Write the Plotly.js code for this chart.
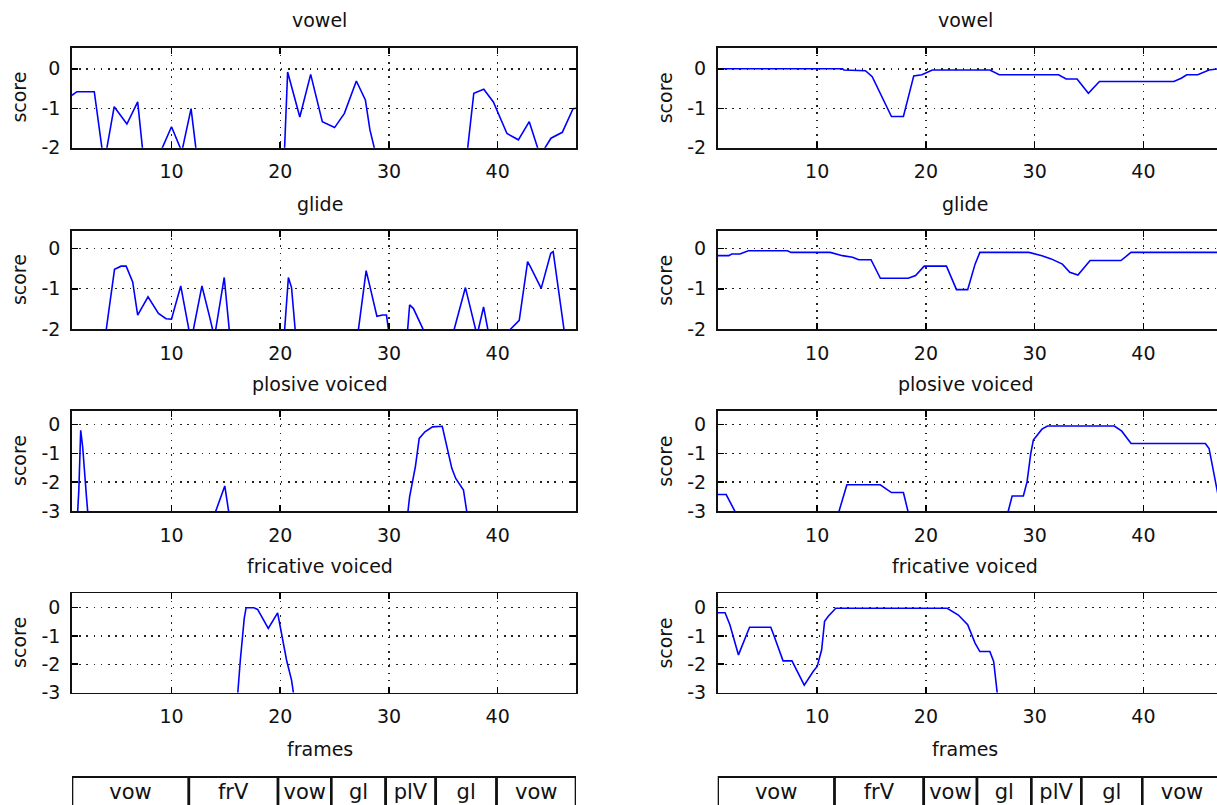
<!DOCTYPE html>
<html>
<head>
<meta charset="utf-8">
<script src="https://cdn.plot.ly/plotly-3.0.1.min.js"></script>
<style>html,body{margin:0;padding:0;background:#fff;overflow:hidden}#chart{width:1217px;height:805px}</style>
</head>
<body>
<div id="chart"></div>
<script>
// ---------- data ----------
const panelTitles = ["vowel", "glide", "plosive voiced", "fricative voiced"];
const xTicks = [10, 20, 30, 40];
const yTicks2 = [0, -1, -2];
const yTickText2 = ["0", "-1", "-2"];
const yTicks3 = [0, -1, -2, -3];
const yTickText3 = ["0", "-1", "-2", "-3"];
const xAxisLabel = "frames";
const yAxisLabel = "score";

// left column
const vowelA_x = [0.85, 1.3, 2.9, 3.8, 4.73, 5.9, 6.89, 7.55, 9.0, 10.0, 10.95, 11.8, 12.5, 20.3, 20.68, 21.04, 21.8, 22.8, 23.87, 25.0, 25.9, 27.0, 27.83, 28.25, 29.0, 37.0, 37.8, 38.72, 39.6, 40.85, 41.9, 42.9, 43.9, 44.9, 45.94, 46.93, 47.2];
const vowelA_y = [-0.67, -0.58, -0.58, -2.41, -0.96, -1.4, -0.84, -2.6, -2.1, -1.47, -2.1, -1.01, -2.6, -2.7, -0.08, -0.46, -1.22, -0.14, -1.34, -1.49, -1.13, -0.31, -0.79, -1.55, -2.4, -2.6, -0.62, -0.52, -0.84, -1.64, -1.8, -1.34, -2.2, -1.76, -1.61, -1.01, -1.0];

const glideA_x = [0.85, 3.8, 4.76, 5.37, 5.83, 6.43, 6.89, 7.84, 8.8, 9.5, 10.0, 10.85, 11.8, 12.8, 13.5, 13.95, 14.85, 15.45, 20.3, 20.75, 21.04, 21.5, 27.0, 27.9, 28.36, 28.89, 29.42, 29.77, 30.1, 31.6, 31.9, 32.25, 33.1, 33.4, 35.6, 37.03, 38.1, 38.7, 39.3, 41.1, 41.98, 42.75, 43.0, 44.0, 44.88, 45.1, 46.3, 47.2];
const glideA_y = [-2.4, -2.4, -0.52, -0.44, -0.44, -0.83, -1.65, -1.2, -1.61, -1.74, -1.75, -0.93, -2.3, -0.93, -1.69, -2.2, -0.72, -2.4, -2.4, -0.72, -0.97, -2.4, -2.4, -0.55, -1.07, -1.68, -1.65, -1.65, -2.3, -2.4, -1.40, -1.49, -1.98, -2.2, -2.4, -0.97, -2.15, -1.45, -2.3, -2.02, -1.78, -0.33, -0.45, -0.99, -0.12, -0.08, -2.4, -2.4];

const plosiveA_x = [0.85, 1.3, 1.48, 1.6, 1.65, 1.83, 2.0, 2.18, 2.4, 13.6, 14.9, 15.45, 31.6, 31.9, 32.43, 32.78, 33.31, 34.0, 34.9, 35.43, 35.78, 36.14, 36.85, 37.35, 47.2];
const plosiveA_y = [-3.5, -3.5, -2.27, -1.0, -0.2, -0.77, -1.7, -2.5, -3.5, -3.5, -2.13, -3.5, -3.5, -2.5, -1.46, -0.48, -0.25, -0.08, -0.06, -0.89, -1.52, -1.87, -2.27, -3.5, -3.5];

const fricA_x = [0.85, 16.0, 16.33, 16.69, 16.86, 17.57, 17.92, 18.9, 19.76, 20.05, 20.58, 21.04, 21.4, 47.2];
const fricA_y = [-3.5, -3.5, -1.85, -0.38, 0, 0, -0.06, -0.73, -0.18, -0.79, -1.85, -2.56, -3.5, -3.5];

// right column
const vowelB_x = [0.85, 12.32, 12.46, 14.44, 15.06, 16.83, 17.93, 18.88, 19.63, 20.59, 25.88, 26.74, 32.2, 32.89, 33.9, 34.94, 35.96, 42.8, 43.48, 43.99, 45.0, 46.04, 46.9];
const vowelB_y = [0, 0, -0.03, -0.05, -0.2, -1.21, -1.21, -0.18, -0.15, -0.03, -0.03, -0.15, -0.15, -0.26, -0.26, -0.62, -0.32, -0.32, -0.24, -0.15, -0.15, -0.03, 0];

const glideB_x = [0.85, 1.87, 2.14, 2.89, 3.67, 7.26, 7.6, 11.2, 12.32, 13.25, 13.83, 14.95, 15.81, 18.37, 19.05, 19.84, 21.89, 22.81, 23.84, 24.52, 24.96, 29.47, 30.67, 31.52, 32.55, 33.23, 33.98, 34.94, 35.1, 37.94, 38.86, 46.9];
const glideB_y = [-0.18, -0.18, -0.14, -0.14, -0.06, -0.06, -0.1, -0.1, -0.18, -0.22, -0.28, -0.28, -0.74, -0.74, -0.67, -0.44, -0.44, -1.02, -1.02, -0.39, -0.1, -0.1, -0.18, -0.26, -0.39, -0.59, -0.66, -0.33, -0.3, -0.3, -0.1, -0.1];

const plosiveB_x = [0.85, 1.63, 2.42, 2.6, 11.7, 12.73, 15.8, 16.83, 17.93, 18.6, 27.3, 27.93, 28.96, 29.3, 29.64, 29.88, 30.67, 31.18, 37.33, 38.01, 38.87, 45.7, 46.04, 46.62, 46.96, 47.2];
const plosiveB_y = [-2.43, -2.43, -3, -3.3, -3.4, -2.09, -2.09, -2.36, -2.36, -3.4, -3.4, -2.48, -2.48, -1.99, -1.01, -0.54, -0.16, -0.05, -0.05, -0.23, -0.66, -0.66, -0.83, -1.99, -2.63, -3.0];

const fricB_x = [0.85, 1.53, 1.97, 2.42, 2.76, 3.78, 5.73, 5.97, 6.86, 7.68, 8.81, 9.66, 10.0, 10.41, 10.68, 11.02, 11.71, 21.96, 22.98, 23.84, 24.52, 24.96, 25.88, 26.23, 26.7, 47.2];
const fricB_y = [-0.18, -0.18, -0.6, -1.19, -1.67, -0.69, -0.69, -0.93, -1.88, -1.88, -2.74, -2.24, -2.08, -1.49, -0.48, -0.3, -0.02, -0.02, -0.26, -0.6, -1.25, -1.55, -1.55, -1.9, -3.5, -3.5];

// segmentation bar below the plots
const segBounds = [0.85, 11.6, 19.8, 24.7, 29.7, 34.3, 39.9, 47.2];
const segLabels = ["vow", "frV", "vow", "gl", "plV", "gl", "vow"];

// ---------- layout helpers ----------
const W = 1217, H = 805;
const FONT = "DejaVu Sans, Liberation Sans, Arial, sans-serif";
const FS = 19;
const TXT = "#111";
const colPx = [[72, 576], [717.7, 1217]];
const colRange = [[0.85, 47.2], [0.85, 46.77]];
const rowPx = [[47.5, 147.7], [231, 329.2], [411, 511], [593.3, 692.5]];
const rowRange = [[-2, 0.54], [-2, 0.43], [-3, 0.47], [-3, 0.51]];
const barPx = [776, 805];

const series = [
  [[vowelA_x, vowelA_y], [vowelB_x, vowelB_y]],
  [[glideA_x, glideA_y], [glideB_x, glideB_y]],
  [[plosiveA_x, plosiveA_y], [plosiveB_x, plosiveB_y]],
  [[fricA_x, fricA_y], [fricB_x, fricB_y]]
];

const traces = [];
const layout = {
  width: W, height: H,
  margin: {l: 0, r: 0, t: 0, b: 0},
  paper_bgcolor: "white", plot_bgcolor: "white",
  showlegend: false,
  font: {family: FONT, size: FS, color: TXT},
  annotations: [],
  shapes: []
};

let idx = 1;
for (let r = 0; r < 4; r++) {
  for (let c = 0; c < 2; c++) {
    const xa = "xaxis" + (idx === 1 ? "" : idx);
    const ya = "yaxis" + (idx === 1 ? "" : idx);
    const xid = "x" + (idx === 1 ? "" : idx);
    const yid = "y" + (idx === 1 ? "" : idx);
    const three = r >= 2;
    layout[xa] = {
      domain: [colPx[c][0] / W, colPx[c][1] / W],
      range: colRange[c], anchor: yid,
      tickvals: xTicks, ticks: "inside", ticklen: 6, tickwidth: 1.5, tickcolor: "black",
      showline: true, linecolor: "#111", linewidth: 1.8, mirror: "ticks",
      showgrid: true, gridcolor: "#222", gridwidth: 1.4, griddash: "1.6px,5.6px",
      zeroline: false, tickfont: {family: FONT, size: FS, color: TXT},
      ticklabelstandoff: 6, fixedrange: true
    };
    layout[ya] = {
      domain: [1 - rowPx[r][1] / H, 1 - rowPx[r][0] / H],
      range: rowRange[r], anchor: xid,
      tickvals: three ? yTicks3 : yTicks2,
      ticktext: three ? yTickText3 : yTickText2,
      ticks: "inside", ticklen: 6, tickwidth: 1.5, tickcolor: "black",
      showline: true, linecolor: "#111", linewidth: 1.8, mirror: c === 0 ? "ticks" : false,
      showgrid: true, gridcolor: "#222", gridwidth: 1.4, griddash: "1.6px,5.6px",
      zeroline: false, tickfont: {family: FONT, size: FS, color: TXT},
      ticklabelstandoff: 6, fixedrange: true
    };
    traces.push({
      type: "scatter", mode: "lines",
      x: series[r][c][0], y: series[r][c][1],
      xaxis: xid, yaxis: yid,
      line: {color: "#0000ff", width: 1.6},
      hoverinfo: "skip"
    });
    const cx = (colPx[c][0] + (c === 1 ? 1221 : colPx[c][1])) / 2 / W;
    // subplot title
    layout.annotations.push({
      text: panelTitles[r], xref: "paper", yref: "paper",
      x: cx - 4 / W, y: 1 - (rowPx[r][0] - 27) / H,
      xanchor: "center", yanchor: "middle", showarrow: false,
      font: {family: FONT, size: FS, color: TXT}
    });
    // y label
    layout.annotations.push({
      text: yAxisLabel, xref: "paper", yref: "paper", textangle: -90,
      x: (colPx[c][0] - 53) / W, y: 1 - (rowPx[r][0] + rowPx[r][1]) / 2 / H,
      xanchor: "center", yanchor: "middle", showarrow: false,
      font: {family: FONT, size: FS, color: TXT}
    });
    if (r === 3) {
      layout.annotations.push({
        text: xAxisLabel, xref: "paper", yref: "paper",
        x: cx - 4 / W, y: 1 - 749 / H,
        xanchor: "center", yanchor: "middle", showarrow: false,
        font: {family: FONT, size: FS, color: TXT}
      });
    }
    idx++;
  }
}

// segmentation bars (axes 9 and 10)
const segStarts = segBounds.slice(0, -1);
const segWidths = segStarts.map((s, i) => segBounds[i + 1] - s);
for (let c = 0; c < 2; c++) {
  const n = 9 + c;
  layout["xaxis" + n] = {
    domain: [colPx[c][0] / W, colPx[c][1] / W], range: colRange[c], anchor: "y" + n,
    showgrid: false, zeroline: false, showticklabels: false, ticks: "", showline: false, fixedrange: true
  };
  layout["yaxis" + n] = {
    domain: [1 - barPx[1] / H, 1 - barPx[0] / H], range: [-0.42, 0.52], anchor: "x" + n,
    showgrid: false, zeroline: false, showticklabels: false, ticks: "", showline: false, fixedrange: true
  };
  traces.push({
    type: "bar", orientation: "h",
    x: segWidths, base: segStarts, y: segStarts.map(() => 0),
    width: 1,
    xaxis: "x" + n, yaxis: "y" + n,
    marker: {color: "white", line: {color: "#111", width: 2.6}},
    text: segLabels, textposition: "inside", insidetextanchor: "middle",
    constraintext: "none", textangle: 0,
    textfont: {family: FONT, size: 21, color: TXT},
    hoverinfo: "skip"
  });
}

Plotly.newPlot("chart", traces, layout, {staticPlot: true, displayModeBar: false});
</script>
</body>
</html>
